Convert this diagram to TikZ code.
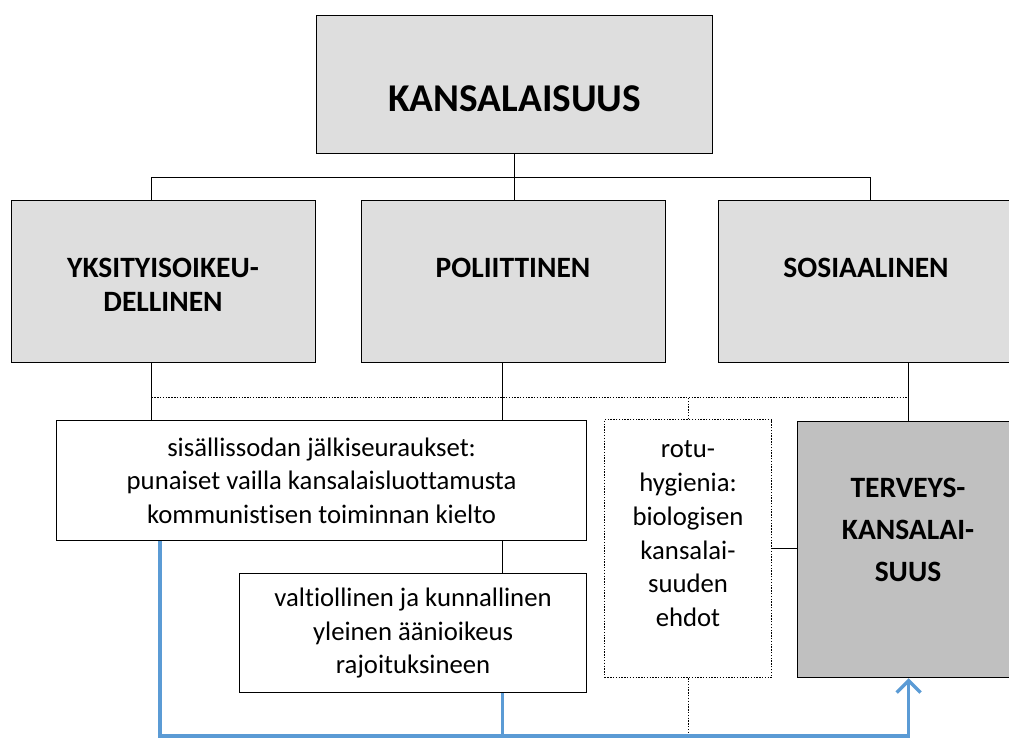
\documentclass[tikz,border=0pt]{standalone}
\usepackage{fontspec}
\setmainfont{Carlito}[Ligatures={NoCommon}]
\usetikzlibrary{positioning,calc,arrows.meta}

\definecolor{lightgrey}{HTML}{DEDEDE}
\definecolor{midgrey}{HTML}{C0C0C0}
\definecolor{flowblue}{HTML}{5B9BD5}

\begin{document}
\begin{tikzpicture}
	[
	x=0.025cm, y=-0.025cm,
	box/.style = {draw, line width=0.8pt, anchor=north west, inner sep=0pt},
	headbox/.style = {box, fill=lightgrey},
	title/.style = {font=\bfseries\fontsize{28}{34}\selectfont},
	head/.style = {font=\bfseries\fontsize{21}{24}\selectfont, align=center},
	body/.style = {font=\fontsize{19}{24}\selectfont, align=center},
	link/.style = {line width=0.6pt},
	dotlink/.style = {link, dash pattern=on 1pt off 1pt},
	flow/.style = {draw=flowblue, line width=2.4pt}
	]
	\useasboundingbox (0,0) rectangle (1009,738);
	\clip (0,0) rectangle (1009,738);
	% top level
	\node[headbox, minimum width=9.9cm, minimum height=3.45cm] (kans) at (316,15) {};
	\node[title] (kanstext) at ([yshift=-0.35cm]kans.center) {KANSALAISUUS};
	% three kinds
	\node[headbox, minimum width=7.6cm, minimum height=4.05cm] (yks) at (11,200) {};
	\node[headbox, minimum width=7.6cm, minimum height=4.05cm] (pol) at (361,200) {};
	\node[headbox, minimum width=7.6cm, minimum height=4.05cm] (sos) at (718,200) {};
	\node[head] (ykstext) at (163,285) {YKSITYISOIKEU-\\DELLINEN};
	\node[head] (poltext) at (513,268) {POLIITTINEN};
	\node[head] (sostext) at (866,268) {SOSIAALINEN};
	% lower boxes
	\node[box, minimum width=13.25cm, minimum height=3cm, body] (sis) at (56,420)
		{sisällissodan jälkiseuraukset:\\punaiset vailla kansalaisluottamusta\\kommunistisen toiminnan kielto};
	\node[box, minimum width=8.675cm, minimum height=2.975cm, body] (val) at (239,573)
		{valtiollinen ja kunnallinen\\yleinen äänioikeus\\rajoituksineen};
	\node[box, dash pattern=on 1pt off 1pt, minimum width=4.175cm, minimum height=6.45cm] (rotu) at (604,419) {};
	\node[body] (rotutext) at (688,534) {rotu-\\hygienia:\\biologisen\\kansalai-\\suuden\\ehdot};
	\node[box, fill=midgrey, minimum width=5.55cm, minimum height=6.4cm] (terv) at (797,421) {};
	\node[head, font=\bfseries\fontsize{21}{30}\selectfont] (tervtext) at (908,530) {TERVEYS-\\KANSALAI-\\SUUS};
	% tree
	\draw[link] (kans.south) -- (kans.south |- pol.north);
	\draw[link] ($(yks.north)+(-12,0)$) -- ++(0,-23) -| (sos.north);
	\coordinate (drop1) at ($(yks.south)+(-12,0)$);
	\coordinate (drop2) at ($(pol.south)+(-11,0)$);
	\coordinate (bus) at (0,397);
	\draw[link] (drop1) -- (drop1 |- sis.north);
	\draw[link] (drop2) -- (drop2 |- sis.north);
	\draw[link] (terv.north) -- (terv.north |- sos.south);
	\draw[dotlink] (drop1 |- bus) -- (terv.north |- bus);
	\draw[dotlink] (rotu.north) -- (rotu.north |- bus);
	\draw[link] (drop2 |- sis.south) -- (drop2 |- val.north);
	\draw[link] (rotu.east) -- (rotu.east -| terv.west);
	\draw[dotlink] (rotu.south) -- ++(0,70);
	% blue arrows
	\draw[flow, -{Straight Barb[length=3mm, width=6mm]}] ($(sis.south west)+(104,0)$) -- ++(0,195) -| (terv.south);
	\draw[flow] (drop2 |- val.south) -- ++(0,43);
\end{tikzpicture}
\end{document}
